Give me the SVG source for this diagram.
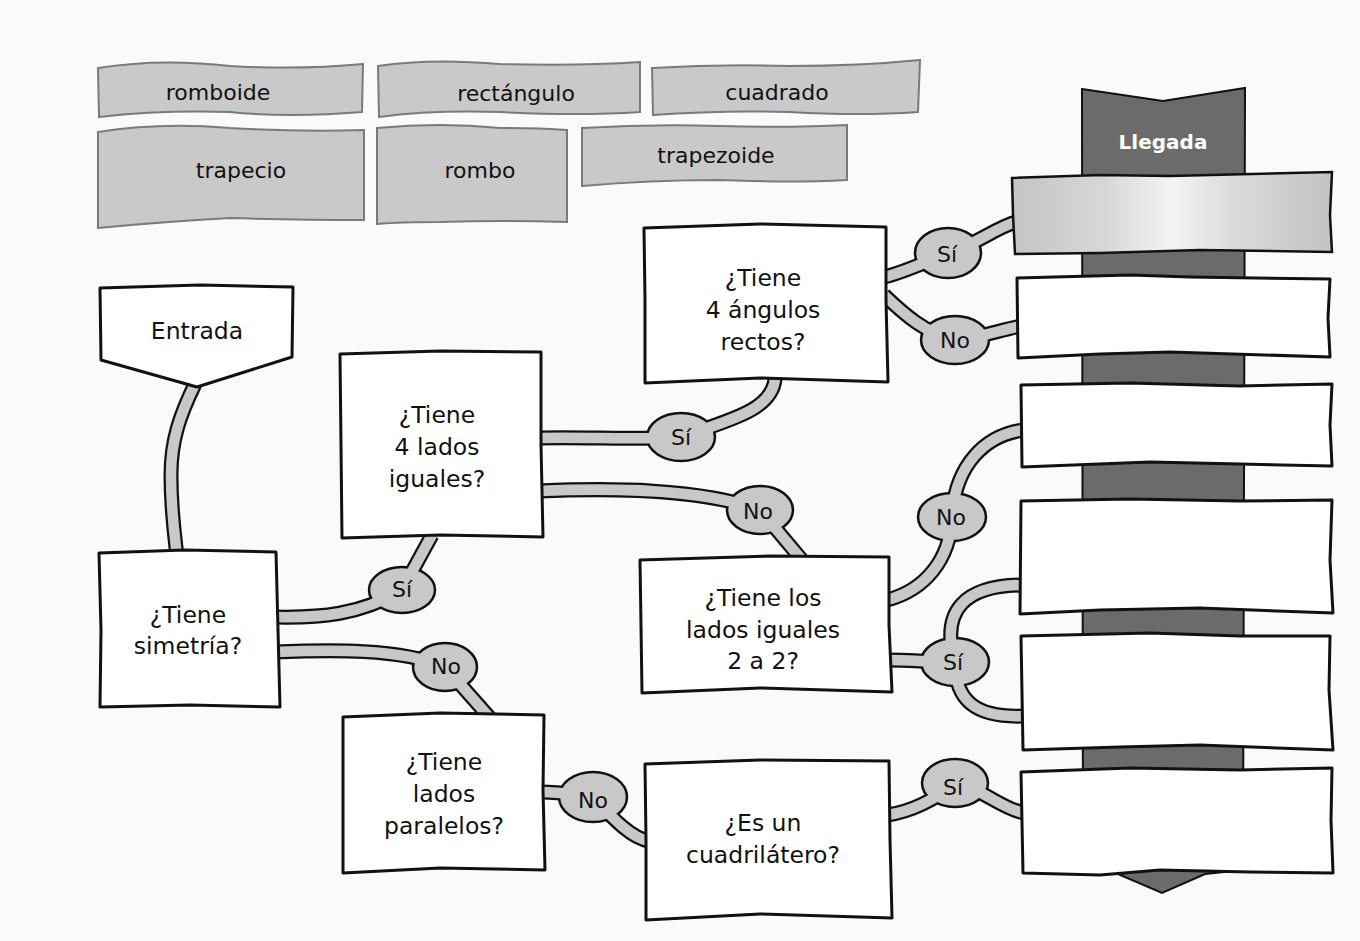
<svg xmlns="http://www.w3.org/2000/svg" xmlns:xlink="http://www.w3.org/1999/xlink" width="1360" height="941" viewBox="0 0 1360 941">
<style>
.box{fill:#fff;stroke:#111;stroke-width:3;stroke-linejoin:round}
.tile{fill:#c9c9c9;stroke:#7a7a7a;stroke-width:2}
.t{font-family:"DejaVu Sans",Verdana,sans-serif;font-size:23.5px;fill:#111;text-anchor:middle}
.tt{font-family:"DejaVu Sans",Verdana,sans-serif;font-size:22px;fill:#111;text-anchor:middle}
.lb{font-family:"DejaVu Sans",Verdana,sans-serif;font-size:22px;fill:#111;text-anchor:middle}
.outer{fill:none;stroke:#111;stroke-width:15;stroke-linecap:butt}
.inner{fill:none;stroke:#c8c8c8;stroke-width:10.5;stroke-linecap:butt}
.ell{fill:#c8c8c8;stroke:#111;stroke-width:2.5}
</style>
<defs>
<linearGradient id="g1" x1="0" y1="0" x2="1" y2="0">
<stop offset="0" stop-color="#c4c4c4"/>
<stop offset="0.3" stop-color="#d8d8d8"/>
<stop offset="0.5" stop-color="#f4f4f4"/>
<stop offset="0.7" stop-color="#dadada"/>
<stop offset="1" stop-color="#c2c2c2"/>
</linearGradient>
<path id="c1" d="M195,384 C180,415 171,440 171,475 C171,510 174,530 177,556"/>
<path id="c2a" d="M274,617 C320,618 360,615 402,590"/>
<path id="c2b" d="M402,590 L432,535"/>
<path id="c3a" d="M274,652 C330,650 400,648 445,667"/>
<path id="c3b" d="M445,667 L490,718"/>
<path id="c4a" d="M539,438 C590,437 640,440 681,437"/>
<path id="c4b" d="M681,437 C730,420 772,410 775,379"/>
<path id="c5a" d="M539,491 C610,488 700,488 760,510"/>
<path id="c5b" d="M760,510 L802,560"/>
<path id="c6a" d="M884,277 C905,272 925,262 948,253"/>
<path id="c6b" d="M948,253 C975,245 995,228 1016,222"/>
<path id="c7a" d="M884,295 C905,315 925,333 955,340"/>
<path id="c7b" d="M955,340 C980,338 1000,330 1021,326"/>
<path id="c8a" d="M887,600 C925,590 950,560 952,517"/>
<path id="c8b" d="M952,517 C955,465 985,435 1024,430"/>
<path id="c9a" d="M887,660 C910,660 930,662 955,662"/>
<path id="c9b" d="M955,662 C940,610 965,585 1024,585"/>
<path id="c9c" d="M955,662 C955,700 975,718 1024,716"/>
<path id="c10a" d="M541,792 C560,792 575,795 593,797"/>
<path id="c10b" d="M593,797 C610,815 630,838 649,841"/>
<path id="c11a" d="M887,815 C910,812 935,800 955,783"/>
<path id="c11b" d="M955,783 C985,790 1000,808 1024,813"/>
</defs>
<rect x="0" y="0" width="1360" height="941" fill="#fafafa"/>

<g id="tiles">
<g id="tile-romboide"><path class="tile" d="M98,68 Q160,58 230,66 Q300,70 363,64 L362,112 Q290,118 230,112 Q160,110 99,117 Z"/><text class="tt" x="218" y="100">romboide</text></g>
<g id="tile-rectangulo"><path class="tile" d="M378,66 Q430,58 500,64 Q580,66 640,62 L640,112 Q580,116 500,112 Q430,110 379,117 Z"/><text class="tt" x="516" y="101">rectángulo</text></g>
<g id="tile-cuadrado"><path class="tile" d="M652,68 Q720,64 790,66 Q860,66 920,60 L918,112 Q860,116 790,112 Q720,110 653,115 Z"/><text class="tt" x="777" y="100">cuadrado</text></g>
<g id="tile-trapecio"><path class="tile" d="M98,132 Q160,122 230,128 Q300,132 364,130 L364,220 Q300,220 230,218 Q160,222 98,228 Z"/><text class="tt" x="241" y="178">trapecio</text></g>
<g id="tile-rombo"><path class="tile" d="M377,128 Q440,122 500,128 Q540,128 567,130 L567,222 Q500,220 440,222 Q400,222 377,224 Z"/><text class="tt" x="480" y="178">rombo</text></g>
<g id="tile-trapezoide"><path class="tile" d="M582,128 Q650,124 720,126 Q790,128 847,125 L847,180 Q790,183 720,180 Q650,180 582,186 Z"/><text class="tt" x="716" y="163">trapezoide</text></g>
</g>

<g id="llegada">
<path d="M1082,89 L1163,101 L1245,88 L1243,870 L1205,874 L1162,893 L1118,874 L1083,870 Z" fill="#6b6b6b" stroke="#111" stroke-width="2"/>
<text x="1163" y="149" font-family="'DejaVu Sans',Verdana,sans-serif" font-size="20" font-weight="bold" fill="#fff" text-anchor="middle">Llegada</text>
</g>

<g id="connectors">
<use xlink:href="#c1" class="outer"/>
<use xlink:href="#c2a" class="outer"/><use xlink:href="#c2b" class="outer"/>
<use xlink:href="#c3a" class="outer"/><use xlink:href="#c3b" class="outer"/>
<use xlink:href="#c4a" class="outer"/><use xlink:href="#c4b" class="outer"/>
<use xlink:href="#c5a" class="outer"/><use xlink:href="#c5b" class="outer"/>
<use xlink:href="#c6a" class="outer"/><use xlink:href="#c6b" class="outer"/>
<use xlink:href="#c7a" class="outer"/><use xlink:href="#c7b" class="outer"/>
<use xlink:href="#c8a" class="outer"/><use xlink:href="#c8b" class="outer"/>
<use xlink:href="#c9a" class="outer"/><use xlink:href="#c9b" class="outer"/><use xlink:href="#c9c" class="outer"/>
<use xlink:href="#c10a" class="outer"/><use xlink:href="#c10b" class="outer"/>
<use xlink:href="#c11a" class="outer"/><use xlink:href="#c11b" class="outer"/>
<ellipse class="ell" cx="402" cy="590" rx="33" ry="23"/>
<ellipse class="ell" cx="445" cy="667" rx="32" ry="24"/>
<ellipse class="ell" cx="681" cy="437" rx="34" ry="24"/>
<ellipse class="ell" cx="760" cy="510" rx="33" ry="24"/>
<ellipse class="ell" cx="948" cy="253" rx="33" ry="25"/>
<ellipse class="ell" cx="955" cy="340" rx="34" ry="24"/>
<ellipse class="ell" cx="952" cy="517" rx="34" ry="24"/>
<ellipse class="ell" cx="955" cy="662" rx="34" ry="24"/>
<ellipse class="ell" cx="593" cy="797" rx="34" ry="25"/>
<ellipse class="ell" cx="955" cy="783" rx="33" ry="24"/>
<use xlink:href="#c1" class="inner"/>
<use xlink:href="#c2a" class="inner"/><use xlink:href="#c2b" class="inner"/>
<use xlink:href="#c3a" class="inner"/><use xlink:href="#c3b" class="inner"/>
<use xlink:href="#c4a" class="inner"/><use xlink:href="#c4b" class="inner"/>
<use xlink:href="#c5a" class="inner"/><use xlink:href="#c5b" class="inner"/>
<use xlink:href="#c6a" class="inner"/><use xlink:href="#c6b" class="inner"/>
<use xlink:href="#c7a" class="inner"/><use xlink:href="#c7b" class="inner"/>
<use xlink:href="#c8a" class="inner"/><use xlink:href="#c8b" class="inner"/>
<use xlink:href="#c9a" class="inner"/><use xlink:href="#c9b" class="inner"/><use xlink:href="#c9c" class="inner"/>
<use xlink:href="#c10a" class="inner"/><use xlink:href="#c10b" class="inner"/>
<use xlink:href="#c11a" class="inner"/><use xlink:href="#c11b" class="inner"/>
<text class="lb" x="402" y="597">Sí</text>
<text class="lb" x="446" y="674">No</text>
<text class="lb" x="681" y="445">Sí</text>
<text class="lb" x="758" y="519">No</text>
<text class="lb" x="947" y="262">Sí</text>
<text class="lb" x="955" y="348">No</text>
<text class="lb" x="951" y="525">No</text>
<text class="lb" x="953" y="670">Sí</text>
<text class="lb" x="593" y="808">No</text>
<text class="lb" x="953" y="795">Sí</text>
</g>

<g id="entrada"><path class="box" d="M100,288 L200,285 L293,287 L292,357 L197,387 L101,360 Z"/><text class="t" x="197" y="339">Entrada</text></g>
<g id="q-simetria"><path class="box" d="M99,553 L185,550 L276,552 L278,630 L280,707 L190,705 L100,707 L101,630 Z"/><text class="t" x="188" y="623">¿Tiene</text><text class="t" x="188" y="654">simetría?</text></g>
<g id="q-4lados"><path class="box" d="M340,354 L440,351 L541,352 L541,445 L543,537 L440,535 L342,538 L341,445 Z"/><text class="t" x="437" y="423">¿Tiene</text><text class="t" x="437" y="455">4 lados</text><text class="t" x="437" y="487">iguales?</text></g>
<g id="q-angulos"><path class="box" d="M644,228 L760,224 L886,227 L886,300 L888,382 L760,378 L645,383 L645,300 Z"/><text class="t" x="763" y="286">¿Tiene</text><text class="t" x="763" y="318">4 ángulos</text><text class="t" x="763" y="350">rectos?</text></g>
<g id="q-2a2"><path class="box" d="M640,560 L770,556 L889,557 L889,625 L892,692 L760,688 L642,693 L641,625 Z"/><text class="t" x="763" y="606">¿Tiene los</text><text class="t" x="763" y="638">lados iguales</text><text class="t" x="763" y="669">2 a 2?</text></g>
<g id="q-paralelos"><path class="box" d="M343,717 L440,713 L544,715 L543,790 L545,870 L440,868 L343,873 L343,790 Z"/><text class="t" x="444" y="770">¿Tiene</text><text class="t" x="444" y="802">lados</text><text class="t" x="444" y="834">paralelos?</text></g>
<g id="q-cuadrilatero"><path class="box" d="M645,764 L760,760 L889,761 L890,840 L892,918 L760,914 L646,920 L646,840 Z"/><text class="t" x="763" y="831">¿Es un</text><text class="t" x="763" y="863">cuadrilátero?</text></g>

<g id="slot-1"><path d="M1012,178 L1100,175 L1170,176 L1332,172 L1330,215 L1332,252 L1200,250 L1100,253 L1015,254 L1013,215 Z" fill="url(#g1)" stroke="#111" stroke-width="2.5"/></g>
<g id="slot-2"><path class="box" d="M1017,278 L1130,275 L1190,277 L1330,279 L1328,318 L1330,357 L1170,352 L1100,354 L1018,358 Z"/></g>
<g id="slot-3"><path class="box" d="M1021,385 L1130,383 L1240,386 L1332,384 L1330,425 L1332,466 L1240,464 L1150,462 L1022,467 Z"/></g>
<g id="slot-4"><path class="box" d="M1021,501 L1130,499 L1240,501 L1332,500 L1330,560 L1333,613 L1200,608 L1100,610 L1020,614 Z"/></g>
<g id="slot-5"><path class="box" d="M1021,636 L1150,633 L1240,636 L1330,636 L1329,690 L1333,750 L1200,745 L1120,747 L1023,750 Z"/></g>
<g id="slot-6"><path class="box" d="M1021,772 L1130,768 L1240,770 L1332,768 L1331,820 L1333,873 L1250,872 L1160,870 L1100,875 L1023,873 Z"/></g>
</svg>
